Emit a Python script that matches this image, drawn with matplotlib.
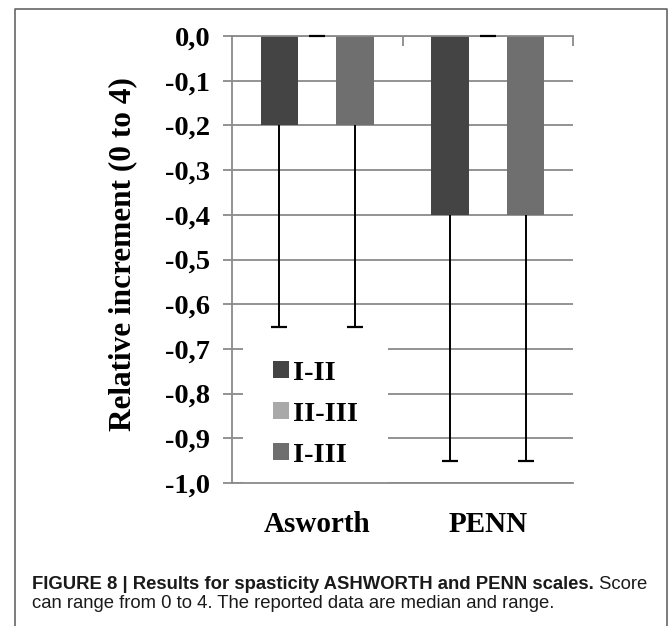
import numpy as np
import matplotlib
matplotlib.use("Agg")
import matplotlib.pyplot as plt
from matplotlib.patches import Patch
from matplotlib.lines import Line2D

# ---- data -------------------------------------------------------------
categories = ["Asworth", "PENN"]
series_names = ["I-II", "II-III", "I-III"]
median_I_II = [-0.2, -0.4]
median_II_III = [0.0, 0.0]
median_I_III = [-0.2, -0.4]
min_I_II = [-0.65, -0.95]
min_II_III = [0.0, 0.0]
min_I_III = [-0.65, -0.95]
y_ticks = [0.0, -0.1, -0.2, -0.3, -0.4, -0.5, -0.6, -0.7, -0.8, -0.9, -1.0]
y_tick_labels = ["0,0", "-0,1", "-0,2", "-0,3", "-0,4", "-0,5",
                 "-0,6", "-0,7", "-0,8", "-0,9", "-1,0"]

medians = [median_I_II, median_II_III, median_I_III]
mins = [min_I_II, min_II_III, min_I_III]
colors = ["#444444", "#a9a9a9", "#6f6f6f"]

W, H = 669, 626
DPI = 100
fig = plt.figure(figsize=(W / DPI, H / DPI), dpi=DPI)
fig.patch.set_facecolor("white")

def fx(px):
    return px / W

def fy(py):
    return 1 - py / H

serif = ["Liberation Serif", "DejaVu Serif"]
grid_col = "#8a8a8a"

ax = fig.add_axes([fx(232), fy(483), fx(573) - fx(232), fy(36) - fy(483)])

x_centers = np.arange(len(categories)) + 0.5
bar_w = 0.22
offsets = [-0.222, 0.0, 0.222]

for name, med, lo, col, off in zip(series_names, medians, mins, colors, offsets):
    med = np.array(med)
    lo = np.array(lo)
    xs = x_centers + off
    ax.bar(xs, med, width=bar_w, color=col, zorder=2, label=name)
    # range: whisker from the median down to the minimum, capped at the end
    ax.vlines(xs, lo, med, colors="black", linewidth=1.4, zorder=3)
    ax.plot(xs, lo, linestyle="none", marker="_", markersize=12,
            markeredgewidth=1.6, color="black", zorder=3, clip_on=False)

ax.set_xlim(0, len(categories))
ax.set_ylim(-1.0, 0.0)

# value axis
ax.set_yticks(y_ticks)
ax.set_yticklabels(y_tick_labels, fontfamily=serif, fontweight="bold", fontsize=20.5)
ax.yaxis.grid(True, color=grid_col, linewidth=1.3, zorder=0)
ax.set_axisbelow(True)
ax.tick_params(axis="y", direction="out", length=6.5, width=1.3, color=grid_col, pad=9)

# category axis: labels at the bottom, boundary ticks hanging from the zero line
ax.set_xticks(x_centers)
ax.set_xticklabels(categories, fontfamily=serif, fontweight="bold", fontsize=21)
ax.tick_params(axis="x", which="major", length=0, pad=20)
ax.set_xticks([1, 2], minor=True)
ax.tick_params(axis="x", which="minor", bottom=False, top=True, direction="in",
               length=7.5, width=1.3, color=grid_col)

for side in ["left", "top", "bottom"]:
    ax.spines[side].set_color(grid_col)
    ax.spines[side].set_linewidth(1.3)
    ax.spines[side].set_zorder(2.6)
ax.spines["right"].set_visible(False)

ax.set_ylabel("Relative increment (0 to 4)", fontfamily=serif, fontweight="bold",
              fontsize=22.5, verticalalignment="center")
ax.yaxis.set_label_coords(fx(123), fy(254), transform=fig.transFigure)

handles = [Patch(facecolor=c, edgecolor="none") for c in colors]
leg = ax.legend(handles, series_names, loc="upper left",
                bbox_to_anchor=(fx(243), fy(331)), bbox_transform=fig.transFigure,
                prop={"family": serif, "weight": "bold", "size": 20.5},
                frameon=True, facecolor="white", edgecolor="none", framealpha=1,
                handlelength=0.55, handleheight=0.55, handletextpad=0.15,
                labelspacing=0.56, borderpad=1.05, borderaxespad=0,
                fancybox=False)
leg.set_zorder(2.2)

# caption below the chart
cap_family = ["Liberation Sans", "DejaVu Sans"]
cap_size = 13.3
t1 = fig.text(fx(32), fy(589), "FIGURE 8 | Results for spasticity ASHWORTH and PENN scales.",
              fontfamily=cap_family, fontweight="bold", fontsize=cap_size,
              color="#1a1a1a", va="baseline", ha="left")
fig.canvas.draw()
bb = t1.get_window_extent()
fig.text(bb.x1 / fig.bbox.width, fy(589), " Score", fontfamily=cap_family,
         fontsize=cap_size, color="#1a1a1a", va="baseline", ha="left")
fig.text(fx(32), fy(608), "can range from 0 to 4. The reported data are median and range.",
         fontfamily=cap_family, fontsize=cap_size, color="#1a1a1a",
         va="baseline", ha="left")

# outer frame around figure and caption
frame_col = "#666666"
fig.add_artist(Line2D([fx(15), fx(15), fx(667), fx(667)],
                      [fy(640), fy(9), fy(9), fy(640)],
                      transform=fig.transFigure, color=frame_col, linewidth=1.2))

fig.savefig("out.png", dpi=DPI, facecolor="white")
